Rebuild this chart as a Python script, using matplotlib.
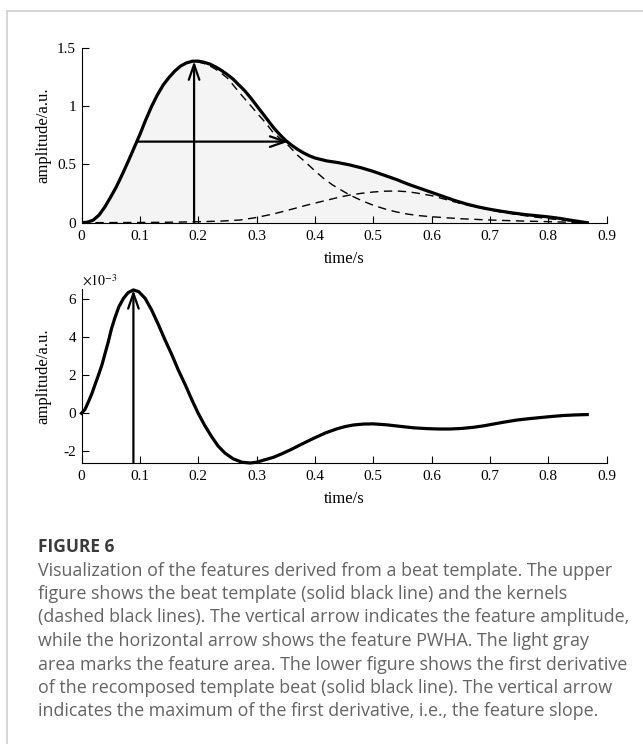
import numpy as np
import matplotlib.pyplot as plt
from matplotlib.lines import Line2D

plt.rcParams['font.family'] = 'Liberation Serif'
plt.rcParams['mathtext.fontset'] = 'stix'
plt.rcParams['axes.unicode_minus'] = False

# upper panel: beat template and its two kernels
t_template = [0.000, 0.010, 0.020, 0.030, 0.040, 0.050, 0.060, 0.070, 0.080, 0.090,
              0.100, 0.110, 0.120, 0.130, 0.140, 0.150, 0.160, 0.170, 0.180, 0.190,
              0.200, 0.210, 0.220, 0.230, 0.240, 0.250, 0.260, 0.270, 0.280, 0.290,
              0.300, 0.310, 0.320, 0.330, 0.340, 0.350, 0.360, 0.370, 0.380, 0.390,
              0.400, 0.420, 0.440, 0.460, 0.480, 0.500, 0.520, 0.540, 0.560, 0.580,
              0.600, 0.620, 0.640, 0.660, 0.680, 0.700, 0.720, 0.740, 0.760, 0.780,
              0.800, 0.820, 0.840, 0.867]
template = [0.000, 0.004, 0.022, 0.065, 0.135, 0.220, 0.310, 0.415, 0.525, 0.640,
            0.755, 0.880, 0.995, 1.095, 1.180, 1.245, 1.300, 1.343, 1.370, 1.384,
            1.385, 1.375, 1.360, 1.335, 1.305, 1.270, 1.230, 1.180, 1.130, 1.070,
            1.005, 0.940, 0.875, 0.810, 0.755, 0.705, 0.665, 0.630, 0.600, 0.575,
            0.555, 0.530, 0.515, 0.495, 0.470, 0.440, 0.405, 0.370, 0.330, 0.295,
            0.260, 0.225, 0.190, 0.160, 0.135, 0.115, 0.098, 0.083, 0.070, 0.060,
            0.050, 0.037, 0.020, 0.000]

t_kernel1 = [0.000, 0.010, 0.020, 0.030, 0.040, 0.050, 0.060, 0.070, 0.080, 0.090,
             0.100, 0.110, 0.120, 0.130, 0.140, 0.150, 0.160, 0.170, 0.180, 0.190,
             0.200, 0.210, 0.220, 0.235, 0.250, 0.260, 0.275, 0.289, 0.300, 0.315,
             0.329, 0.342, 0.355, 0.370, 0.386, 0.400, 0.415, 0.430, 0.445, 0.460,
             0.480, 0.500, 0.520, 0.540, 0.560, 0.580, 0.600, 0.650, 0.700, 0.750,
             0.800, 0.867]
kernel1 = [0.000, 0.004, 0.022, 0.065, 0.135, 0.220, 0.310, 0.415, 0.525, 0.640,
           0.755, 0.880, 0.995, 1.095, 1.180, 1.245, 1.300, 1.343, 1.368, 1.380,
           1.378, 1.365, 1.345, 1.300, 1.240, 1.180, 1.090, 1.010, 0.945, 0.860,
           0.770, 0.715, 0.660, 0.580, 0.510, 0.445, 0.380, 0.325, 0.280, 0.237,
           0.190, 0.150, 0.118, 0.092, 0.073, 0.060, 0.051, 0.034, 0.023, 0.015,
           0.009, 0.000]

t_kernel2 = [0.000, 0.100, 0.150, 0.200, 0.240, 0.272, 0.298, 0.329, 0.360, 0.386,
             0.410, 0.443, 0.460, 0.480, 0.500, 0.520, 0.540, 0.560, 0.580, 0.600,
             0.620, 0.649, 0.675, 0.700, 0.725, 0.752, 0.775, 0.800, 0.830, 0.867]
kernel2 = [0.000, 0.002, 0.004, 0.008, 0.014, 0.023, 0.043, 0.075, 0.115, 0.150,
           0.180, 0.220, 0.237, 0.252, 0.263, 0.270, 0.272, 0.265, 0.250, 0.232,
           0.205, 0.166, 0.136, 0.109, 0.086, 0.066, 0.050, 0.035, 0.020, 0.000]

# feature arrows (upper)
t_peak = 0.193
amp_peak = 1.385
pwha_start = 0.095
pwha_end = 0.355
pwha_level = 0.695

# lower panel: first derivative, in units of 1e-3
t_deriv = [0.000, 0.006, 0.012, 0.018, 0.023, 0.029, 0.035, 0.040, 0.046, 0.051,
           0.057, 0.064, 0.072, 0.080, 0.089, 0.098, 0.109, 0.120, 0.132, 0.143,
           0.155, 0.166, 0.178, 0.189, 0.200, 0.211, 0.223, 0.234, 0.246, 0.260,
           0.275, 0.289, 0.300, 0.310, 0.329, 0.343, 0.358, 0.378, 0.398, 0.418,
           0.438, 0.452, 0.466, 0.483, 0.500, 0.523, 0.546, 0.570, 0.592, 0.612,
           0.632, 0.652, 0.672, 0.690, 0.706, 0.726, 0.746, 0.766, 0.786, 0.806,
           0.826, 0.846, 0.867]
deriv = [0.00, 0.20, 0.61, 1.05, 1.49, 2.00, 2.54, 3.10, 3.77, 4.40,
         5.00, 5.60, 6.05, 6.35, 6.49, 6.40, 6.05, 5.45, 4.65, 3.87,
         3.07, 2.27, 1.49, 0.72, 0.00, -0.63, -1.23, -1.72, -2.10, -2.40,
         -2.58, -2.62, -2.58, -2.49, -2.32, -2.14, -1.93, -1.62, -1.32, -1.04,
         -0.82, -0.70, -0.62, -0.57, -0.56, -0.61, -0.69, -0.77, -0.81, -0.83,
         -0.83, -0.80, -0.74, -0.66, -0.57, -0.46, -0.36, -0.29, -0.23, -0.17,
         -0.12, -0.09, -0.07]
t_slope = 0.089
slope_max = 6.49

caption_title = 'FIGURE 6'
caption_lines = [
    'Visualization of the features derived from a beat template. The upper',
    'figure shows the beat template (solid black line) and the kernels',
    '(dashed black lines). The vertical arrow indicates the feature amplitude,',
    'while the horizontal arrow shows the feature PWHA. The light gray',
    'area marks the feature area. The lower figure shows the first derivative',
    'of the recomposed template beat (solid black line). The vertical arrow',
    'indicates the maximum of the first derivative, i.e., the feature slope.',
]

W, H = 643, 744
fig = plt.figure(figsize=(W / 100, H / 100), dpi=100)

ax1 = fig.add_axes([81.5 / W, 1 - 222.7 / H, 525 / W, 175 / H])
ax2 = fig.add_axes([81.5 / W, 1 - 463 / H, 525 / W, 174 / H])

arrow_props = dict(arrowstyle='->, head_length=1.1, head_width=0.38',
                   lw=1.6, color='black', shrinkA=0, shrinkB=0)

ax1.fill_between(t_template, template, 0, color='#f4f4f4', lw=0, zorder=1)
ax1.plot(t_kernel1, kernel1, color='black', lw=1.0, ls=(0, (6, 4)), zorder=2)
ax1.plot(t_kernel2, kernel2, color='black', lw=1.0, ls=(0, (6, 4)), zorder=2)
ax1.plot(t_template, template, color='black', lw=2.3, zorder=3,
         solid_joinstyle='round')
ax1.annotate('', xy=(t_peak, amp_peak), xytext=(t_peak, 0), arrowprops=arrow_props, zorder=4)
ax1.annotate('', xy=(pwha_end, pwha_level), xytext=(pwha_start, pwha_level),
             arrowprops=arrow_props, zorder=4)
ax1.set_ylim(0, 1.5)
ax1.set_yticks([0, 0.5, 1, 1.5])
ax1.set_yticklabels(['0', '0.5', '1', '1.5'])

ax2.plot(t_deriv, deriv, color='black', lw=2.3, zorder=3, clip_on=False,
         solid_joinstyle='round')
ax2.annotate('', xy=(t_slope, slope_max), xytext=(t_slope, -2.62),
             arrowprops=arrow_props, zorder=4)
ax2.set_ylim(-2.62, 6.54)
ax2.set_yticks([-2, 0, 2, 4, 6])
ax2.text(0.0, 1.02, r'$\times 10^{-3}$', transform=ax2.transAxes, fontsize=10,
         ha='left', va='baseline')

for ax in (ax1, ax2):
    ax.set_xlim(0, 0.9)
    ax.set_xticks(np.arange(0, 0.91, 0.1))
    ax.set_xticklabels(['0', '0.1', '0.2', '0.3', '0.4', '0.5', '0.6', '0.7', '0.8', '0.9'])
    ax.spines['top'].set_visible(False)
    ax.spines['right'].set_visible(False)
    ax.spines['left'].set_linewidth(0.8)
    ax.spines['bottom'].set_linewidth(0.8)
    ax.patch.set_visible(False)
    ax.tick_params(direction='in', length=5, width=0.8, labelsize=11)
    ax.tick_params(axis='x', pad=5)
    ax.tick_params(axis='y', pad=4)
    ax.set_xlabel('time/s', fontsize=12)
    ax.set_ylabel('amplitude/a.u.', fontsize=12)
    ax.xaxis.set_label_coords(0.5, -0.16)
    ax.yaxis.set_label_coords(-0.058, 0.5)

# caption
fig.text(38 / W, 1 - 547 / H, caption_title, fontsize=12.5, fontweight='bold',
         family='Open Sans', color='#3a3a3a', va='center', ha='left')
for i, line in enumerate(caption_lines):
    fig.text(38 / W, 1 - (570.5 + 23.5 * i) / H, line, fontsize=12.9,
             family='Open Sans', color='#646464', va='center', ha='left')

# frame around the figure
fig.add_artist(Line2D([6.5 / W, 1.0], [1 - 11 / H, 1 - 11 / H], color='#d2d2d2', lw=1.3))
fig.add_artist(Line2D([6.5 / W, 6.5 / W], [0.0, 1 - 11 / H], color='#d2d2d2', lw=1.3))

fig.savefig('out.png', dpi=100)
